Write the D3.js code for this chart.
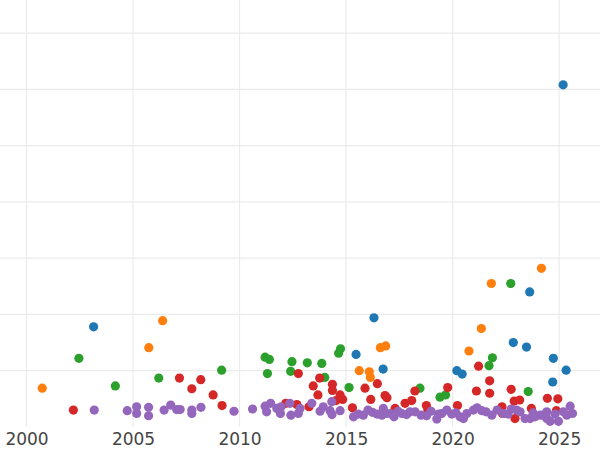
<!DOCTYPE html>
<html>
<head>
<meta charset="utf-8">
<script src="https://cdn.jsdelivr.net/npm/d3@7"></script>
<style>
  body { margin: 0; background: #fff; }
  svg { display: block; font-family: "DejaVu Sans", sans-serif; }
</style>
</head>
<body>
<svg width="600" height="450"></svg>
<script>
// [year, value] pairs
var blueSeries = [
  [2003.15, 1.78], [2025.19, 6.08], [2015.47, 1.29], [2016.31, 1.94], [2016.74, 1.03],
  [2020.20, 1.00], [2020.45, 0.94], [2023.62, 2.40], [2022.85, 1.50], [2023.47, 1.42],
  [2024.73, 1.22], [2025.33, 1.01], [2024.70, 0.80]
];
var orangeSeries = [
  [2000.74, 0.69], [2005.74, 1.41], [2006.39, 1.89], [2015.62, 1.00], [2016.09, 0.98],
  [2016.14, 0.88], [2016.61, 1.41], [2016.86, 1.44], [2020.77, 1.35], [2021.35, 1.75],
  [2021.82, 2.55], [2024.17, 2.82]
];
var greenSeries = [
  [2002.46, 1.22], [2004.17, 0.73], [2006.21, 0.87], [2009.16, 1.01], [2011.20, 1.24],
  [2011.40, 1.20], [2011.31, 0.95], [2012.46, 1.16], [2012.40, 0.99], [2013.18, 1.14],
  [2013.86, 1.13], [2014.00, 0.88], [2014.65, 1.31], [2014.74, 1.39], [2015.14, 0.70],
  [2018.47, 0.69], [2019.41, 0.53], [2019.67, 0.57], [2021.71, 1.09], [2021.87, 1.23],
  [2022.73, 2.55], [2023.55, 0.63]
];
var redSeries = [
  [2002.20, 0.30], [2007.18, 0.87], [2008.18, 0.84], [2007.76, 0.68], [2008.76, 0.57],
  [2009.18, 0.38], [2012.17, 0.42], [2012.69, 0.40], [2012.76, 0.95], [2013.26, 0.36],
  [2013.46, 0.73], [2013.76, 0.87], [2013.68, 0.57], [2014.36, 0.76], [2014.36, 0.65],
  [2014.72, 0.57], [2014.84, 0.49], [2014.53, 0.47], [2015.30, 0.34], [2015.89, 0.69],
  [2016.16, 0.49], [2016.47, 0.77], [2016.83, 0.56], [2016.92, 0.52], [2017.30, 0.33],
  [2017.77, 0.42], [2018.08, 0.47], [2018.23, 0.64], [2018.77, 0.38], [2018.84, 0.30],
  [2019.77, 0.70], [2020.23, 0.38], [2021.22, 1.08], [2021.12, 0.64], [2021.74, 0.82],
  [2021.74, 0.60], [2022.32, 0.36], [2022.34, 0.24], [2022.75, 0.67], [2022.89, 0.46],
  [2023.15, 0.48], [2022.93, 0.15], [2023.70, 0.33], [2024.45, 0.51], [2024.94, 0.50],
  [2024.87, 0.29]
];
var purpleSeries = [
  [2003.18, 0.30], [2004.73, 0.29], [2005.17, 0.36], [2005.17, 0.24], [2005.73, 0.35],
  [2005.73, 0.20], [2006.46, 0.30], [2006.77, 0.39], [2007.05, 0.31], [2007.21, 0.31],
  [2007.76, 0.30], [2007.76, 0.24], [2008.19, 0.35], [2009.74, 0.28], [2010.61, 0.32],
  [2011.20, 0.37], [2011.27, 0.27], [2011.46, 0.42], [2011.75, 0.33], [2011.92, 0.24],
  [2011.95, 0.36], [2012.36, 0.42], [2012.41, 0.21], [2012.84, 0.33], [2012.76, 0.24],
  [2013.39, 0.42], [2013.78, 0.28], [2013.93, 0.36], [2014.25, 0.29], [2014.33, 0.45],
  [2014.34, 0.22], [2014.72, 0.29], [2015.35, 0.18], [2015.57, 0.23], [2015.81, 0.21],
  [2016.03, 0.30], [2016.24, 0.26], [2016.46, 0.23], [2016.68, 0.21], [2016.75, 0.33],
  [2016.88, 0.24], [2017.07, 0.24], [2017.25, 0.18], [2017.44, 0.28], [2017.62, 0.24],
  [2017.84, 0.22], [2018.00, 0.27], [2018.24, 0.27], [2018.52, 0.21], [2018.78, 0.20],
  [2018.99, 0.28], [2019.26, 0.14], [2019.34, 0.23], [2019.49, 0.24], [2019.73, 0.30],
  [2019.96, 0.23], [2020.16, 0.25], [2020.35, 0.18], [2020.51, 0.15], [2020.67, 0.24],
  [2020.98, 0.30], [2021.15, 0.34], [2021.37, 0.29], [2021.57, 0.27], [2021.84, 0.21],
  [2022.09, 0.30], [2022.38, 0.24], [2022.61, 0.23], [2022.75, 0.32], [2023.01, 0.30],
  [2023.17, 0.27], [2023.40, 0.15], [2023.64, 0.15], [2023.78, 0.25], [2023.87, 0.18],
  [2024.11, 0.21], [2024.26, 0.21], [2024.42, 0.27], [2024.42, 0.15], [2024.58, 0.10],
  [2024.81, 0.23], [2024.97, 0.10], [2025.20, 0.27], [2025.36, 0.21], [2025.52, 0.37],
  [2025.63, 0.24]
];
var seriesList = [blueSeries, orangeSeries, greenSeries, redSeries, purpleSeries];
var seriesColors = ["#1f77b4", "#ff7f0e", "#2ca02c", "#d62728", "#9467bd"];
var yearTicks = [2000, 2005, 2010, 2015, 2020, 2025];
var valueTicks = [1, 2, 3, 4, 5, 6, 7];

var svg = d3.select("svg"),
    width = +svg.attr("width"),
    plotBottom = 427;

var x = d3.scaleLinear().domain([1998.756, 2026.92]).range([0, width]);
var y = d3.scaleLinear().domain([0, 7.587]).range([plotBottom, 0]);

var grid = svg.append("g").attr("stroke", "#ebebeb").attr("stroke-width", 1.2);

grid.selectAll(".vgrid")
    .data(yearTicks)
    .enter().append("line")
      .attr("class", "vgrid")
      .attr("x1", function(d) { return x(d); })
      .attr("x2", function(d) { return x(d); })
      .attr("y1", 0)
      .attr("y2", plotBottom);

grid.selectAll(".hgrid")
    .data(valueTicks)
    .enter().append("line")
      .attr("class", "hgrid")
      .attr("x1", 0)
      .attr("x2", width)
      .attr("y1", function(d) { return y(d); })
      .attr("y2", function(d) { return y(d); });

// x axis, labels only
var xAxis = d3.axisBottom(x)
    .tickValues(yearTicks)
    .tickFormat(d3.format("d"))
    .tickSize(0)
    .tickPadding(6);

var axisG = svg.append("g")
    .attr("transform", "translate(0," + plotBottom + ")")
    .call(xAxis);
axisG.select(".domain").remove();
axisG.selectAll("text")
    .attr("font-family", "DejaVu Sans, sans-serif")
    .attr("font-size", 17)
    .attr("fill", "#444");

seriesList.forEach(function(series, i) {
    svg.append("g")
      .selectAll("circle")
      .data(series)
      .enter().append("circle")
        .attr("cx", function(d) { return x(d[0]); })
        .attr("cy", function(d) { return y(d[1]); })
        .attr("r", 4.6)
        .style("fill", seriesColors[i]);
});
</script>
</body>
</html>
